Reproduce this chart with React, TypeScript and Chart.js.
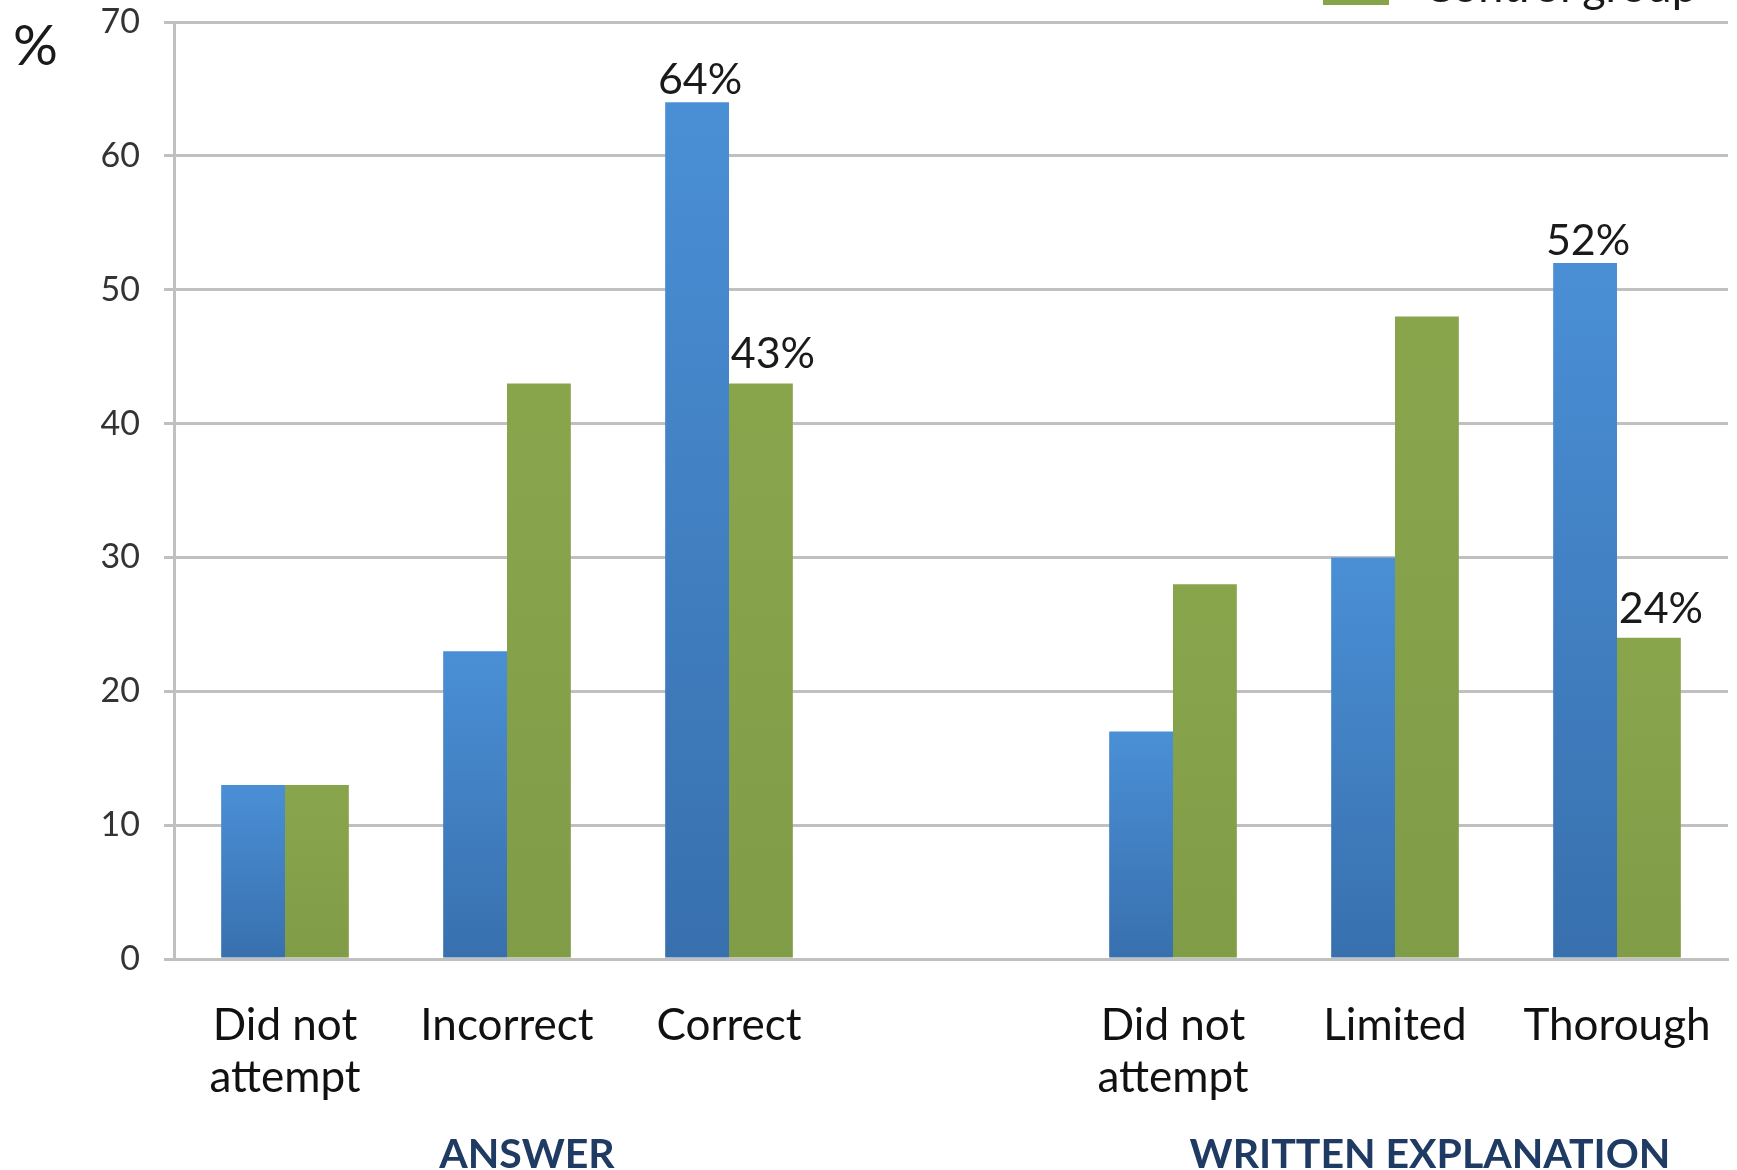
import React, { useEffect, useRef } from 'react';
import { Chart, registerables } from 'chart.js';

Chart.register(...registerables);

// Answer categories, an empty slot separating the two blocks, then the written-explanation categories
const categories: (string | string[])[] = [
  ['Did not', 'attempt'],
  'Incorrect',
  'Correct',
  '',
  ['Did not', 'attempt'],
  'Limited',
  'Thorough',
];

const experimentalGroup: (number | null)[] = [13, 23, 64, null, 17, 30, 52];
const controlGroup: (number | null)[] = [13, 43, 43, null, 28, 48, 24];

// Which bars carry a percentage label above them
const experimentalLabelled = [false, false, true, false, false, false, true];
const controlLabelled = [false, false, true, false, false, false, true];

const yMin = 0;
const yMax = 70;
const yStep = 10;

const groupTitles = ['ANSWER', 'WRITTEN EXPLANATION'];
const groupTitleSlots = [1, 5];

const legendLabel = 'Control group';

const FONT = 'Lato, "Open Sans", sans-serif';

function barGradient(ctx: any, top: string, bottom: string) {
  const chart = ctx.chart;
  const area = chart.chartArea;
  if (!area || ctx.raw == null) return top;
  const yScale = chart.scales.y;
  const yTop = yScale.getPixelForValue(ctx.raw);
  const g = chart.ctx.createLinearGradient(0, yTop, 0, area.bottom);
  g.addColorStop(0, top);
  g.addColorStop(1, bottom);
  return g;
}

const overlayPlugin = {
  id: 'overlay',
  afterDatasetsDraw(chart: any) {
    const ctx = chart.ctx;
    ctx.save();
    // value labels above the highlighted bars
    ctx.fillStyle = '#1a1a1a';
    ctx.font = `43px ${FONT}`;
    ctx.textAlign = 'center';
    ctx.textBaseline = 'alphabetic';
    const labelled = [experimentalLabelled, controlLabelled];
    const dx = [3, 12];
    const gap = [8, 15];
    chart.data.datasets.forEach((ds: any, di: number) => {
      const meta = chart.getDatasetMeta(di);
      meta.data.forEach((bar: any, i: number) => {
        if (!labelled[di][i] || ds.data[i] == null) return;
        ctx.fillText(`${ds.data[i]}%`, bar.x + dx[di], bar.y - gap[di]);
      });
    });
    ctx.restore();
  },
  afterDraw(chart: any) {
    const ctx = chart.ctx;
    const xScale = chart.scales.x;
    ctx.save();
    // unit marker beside the value axis
    ctx.fillStyle = '#1a1a1a';
    ctx.font = `56px ${FONT}`;
    ctx.textAlign = 'left';
    ctx.textBaseline = 'alphabetic';
    ctx.fillText('%', 13, 65);

    // block titles under the category labels
    ctx.fillStyle = '#1f3b63';
    ctx.font = `bold 41px ${FONT}`;
    ctx.textAlign = 'center';
    const offsets = [20, 35];
    groupTitles.forEach((t, i) => {
      ctx.fillText(t, xScale.getPixelForValue(groupTitleSlots[i]) + offsets[i], 1168);
    });

    // legend entry, partly beyond the top edge
    ctx.fillStyle = '#87a34a';
    ctx.fillRect(1323, -40, 66, 45);
    ctx.fillStyle = '#1a1a1a';
    ctx.font = `45px ${FONT}`;
    ctx.textAlign = 'left';
    ctx.fillText(legendLabel, 1423, 2);
    ctx.restore();
  },
};

export default function App() {
  const ref = useRef<HTMLCanvasElement>(null);

  useEffect(() => {
    document.body.style.margin = '0';
    const canvas = ref.current;
    if (!canvas) return;
    const chart = new Chart(canvas, {
      type: 'bar',
      data: {
        labels: categories,
        datasets: [
          {
            label: 'Experimental group',
            data: experimentalGroup,
            backgroundColor: (c: any) => barGradient(c, '#4a8fd5', '#3870ae'),
            categoryPercentage: 0.575,
            barPercentage: 1,
          },
          {
            label: legendLabel,
            data: controlGroup,
            backgroundColor: (c: any) => barGradient(c, '#89a54c', '#809c47'),
            categoryPercentage: 0.575,
            barPercentage: 1,
          },
        ],
      },
      options: {
        responsive: false,
        animation: false,
        layout: { padding: { top: 22, right: 9, left: 0, bottom: 0 } },
        plugins: {
          legend: { display: false },
          tooltip: { enabled: false },
        },
        scales: {
          x: {
            grid: { display: false, drawTicks: false },
            border: { display: true, color: '#c0c0c0', width: 3 },
            ticks: {
              color: '#111',
              font: { family: FONT, size: 44, lineHeight: 1.2 },
              padding: 40,
              maxRotation: 0,
              autoSkip: false,
            },
            afterFit: (s: any) => {
              s.height = 211;
              s.paddingLeft = 0;
              s.paddingRight = 0;
            },
          },
          y: {
            min: yMin,
            max: yMax,
            grid: { color: '#c0c0c0', lineWidth: 3, tickLength: 10 },
            border: { display: true, color: '#c0c0c0', width: 3 },
            ticks: {
              stepSize: yStep,
              color: '#333',
              font: { family: FONT, size: 34 },
              padding: 24,
            },
            afterFit: (s: any) => {
              s.width = 174;
              s.paddingTop = 0;
              s.paddingBottom = 0;
            },
          },
        },
      },
      plugins: [overlayPlugin],
    });
    return () => chart.destroy();
  }, []);

  return (
    <div style={{ position: 'absolute', left: 0, top: 0, width: 1737, height: 1170, background: '#fff' }}>
      <canvas ref={ref} width={1737} height={1170} style={{ display: 'block' }} />
    </div>
  );
}
